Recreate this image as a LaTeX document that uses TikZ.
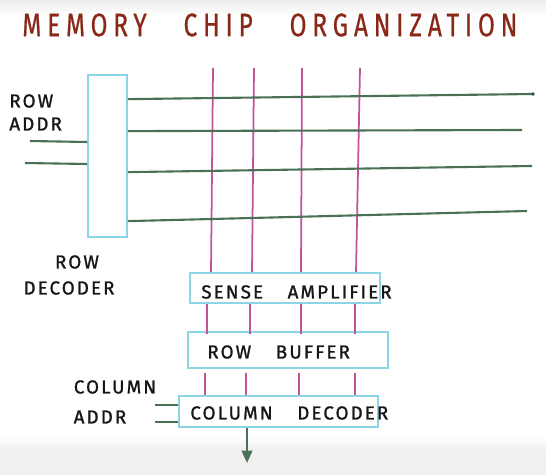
\documentclass[tikz,border=0pt]{standalone}
\usepackage{fontspec}
\setmainfont{Fira Sans}
\newfontfamily\handfont[LetterSpace=11, FakeBold=1.2]{Fira Sans}
\newfontfamily\titlefont[FakeStretch=0.75, LetterSpace=18, FakeBold=0.6]{Fira Sans}
\usetikzlibrary{arrows.meta, positioning, calc}
\definecolor{wordgreen}{RGB}{74,112,86}
\definecolor{bitpink}{RGB}{196,82,150}
\definecolor{boxcyan}{RGB}{138,214,230}
\definecolor{titlered}{RGB}{138,40,24}
\definecolor{ink}{RGB}{22,22,22}

\begin{document}
\begin{tikzpicture}[x=0.02cm, y=-0.02cm,
    blk/.style={rectangle, draw=boxcyan, line width=1pt, inner sep=0pt},
    lbl/.style={font=\handfont\fontsize{10.7}{12}\selectfont, text=ink, inner sep=0pt},
    wordline/.style={wordgreen, line width=1.2pt},
    bitline/.style={bitpink, line width=1pt}]
    \useasboundingbox (0,0) rectangle (546,475);
    % --- Fundo ---
    \shade[top color=gray!14, bottom color=white] (0,0) rectangle (546,16);
    \shade[top color=white, bottom color=gray!12] (0,436) rectangle (546,450);
    \fill[gray!12] (0,450) rectangle (546,475);
    % --- Titulo ---
    \node[font=\titlefont\fontsize{18.5}{20}\selectfont, text=titlered, anchor=west, inner sep=0pt]
      (title) at (22,25) {MEMORY\hspace{21pt}CHIP\hspace{21pt}ORGANIZATION};
    % --- Blocos ---
    \node[blk, minimum width=0.78cm, minimum height=3.24cm] (dec) at (107.5,156) {};
    \node[blk, minimum width=3.8cm, minimum height=0.6cm] (sa) at (285,288) {};
    \node[blk, minimum width=4.0cm, minimum height=0.72cm] (rb) at (288,350) {};
    \node[blk, minimum width=3.98cm, minimum height=0.62cm] (cd) at (278.5,411.5) {};
    % textos dos blocos
    \node[lbl, anchor=west] (satxt) at (201,292) {SENSE\hspace{14pt}AMPLIFIER};
    \node[lbl, anchor=west] (rbtxt) at (207,352) {ROW\hspace{14pt}BUFFER};
    \node[lbl, anchor=west] (cdtxt) at (190,413) {COLUMN\hspace{14pt}DECODER};
    % --- Rotulos ---
    \node[lbl, anchor=west] (ra1) at (9,101) {ROW};
    \node[lbl, anchor=west] (ra2) at (9,124) {ADDR};
    \node[lbl] (rd1) at (77,262) {ROW};
    \node[lbl] (rd2) at (69,288) {DECODER};
    \node[lbl] (ca1) at (115,387) {COLUMN};
    \node[lbl] (ca2) at (100,417) {ADDR};
    % --- Bit lines ---
    \foreach \i/\xt/\xb in {1/213/211, 2/254/252, 3/302/301, 4/360/356} {
      \coordinate (bt\i) at (\xt,68);
      \draw[bitline] (bt\i) -- (sa.north -| \xb,0);
    }
    \foreach \x in {207,250,301,355} {
      \draw[bitline] (sa.south -| \x,0) -- ($(rb.north -| \x,0)+(0,3)$);
    }
    \foreach \x in {205,246,299,355} {
      \draw[bitline] ($(rb.south -| \x,0)+(0,4)$) -- (cd.north -| \x,0);
    }
    % --- Word lines ---
    \foreach \i/\d/\xe/\ye in {1/25/533/94, 2/57/522/130, 3/98/532/166, 4/147/527/211} {
      \coordinate (wr\i) at (\xe,\ye);
      \draw[wordline] ($(dec.north east)+(0,\d)$) -- (wr\i);
    }
    \fill[wordgreen!70!black] (wr1) circle (1.8);
    % --- Enderecos ---
    \coordinate (ral1) at (30,141);
    \coordinate (ral2) at (25,163);
    \draw[wordline] (ral1) -- (dec.west |- 0,142);
    \draw[wordline] (ral2) -- (dec.west |- 0,164);
    \coordinate (cal1) at (155,405);
    \coordinate (cal2) at (155,422);
    \draw[wordline] (cal1) -- (cd.west |- cal1);
    \draw[wordline] (cal2) -- (cd.west |- cal2);
    % --- Saida ---
    \coordinate (out) at (247,463);
    \draw[wordline, -{Triangle[width=6pt, length=7pt]}] (cd.south -| out) -- (out);
\end{tikzpicture}
\end{document}
